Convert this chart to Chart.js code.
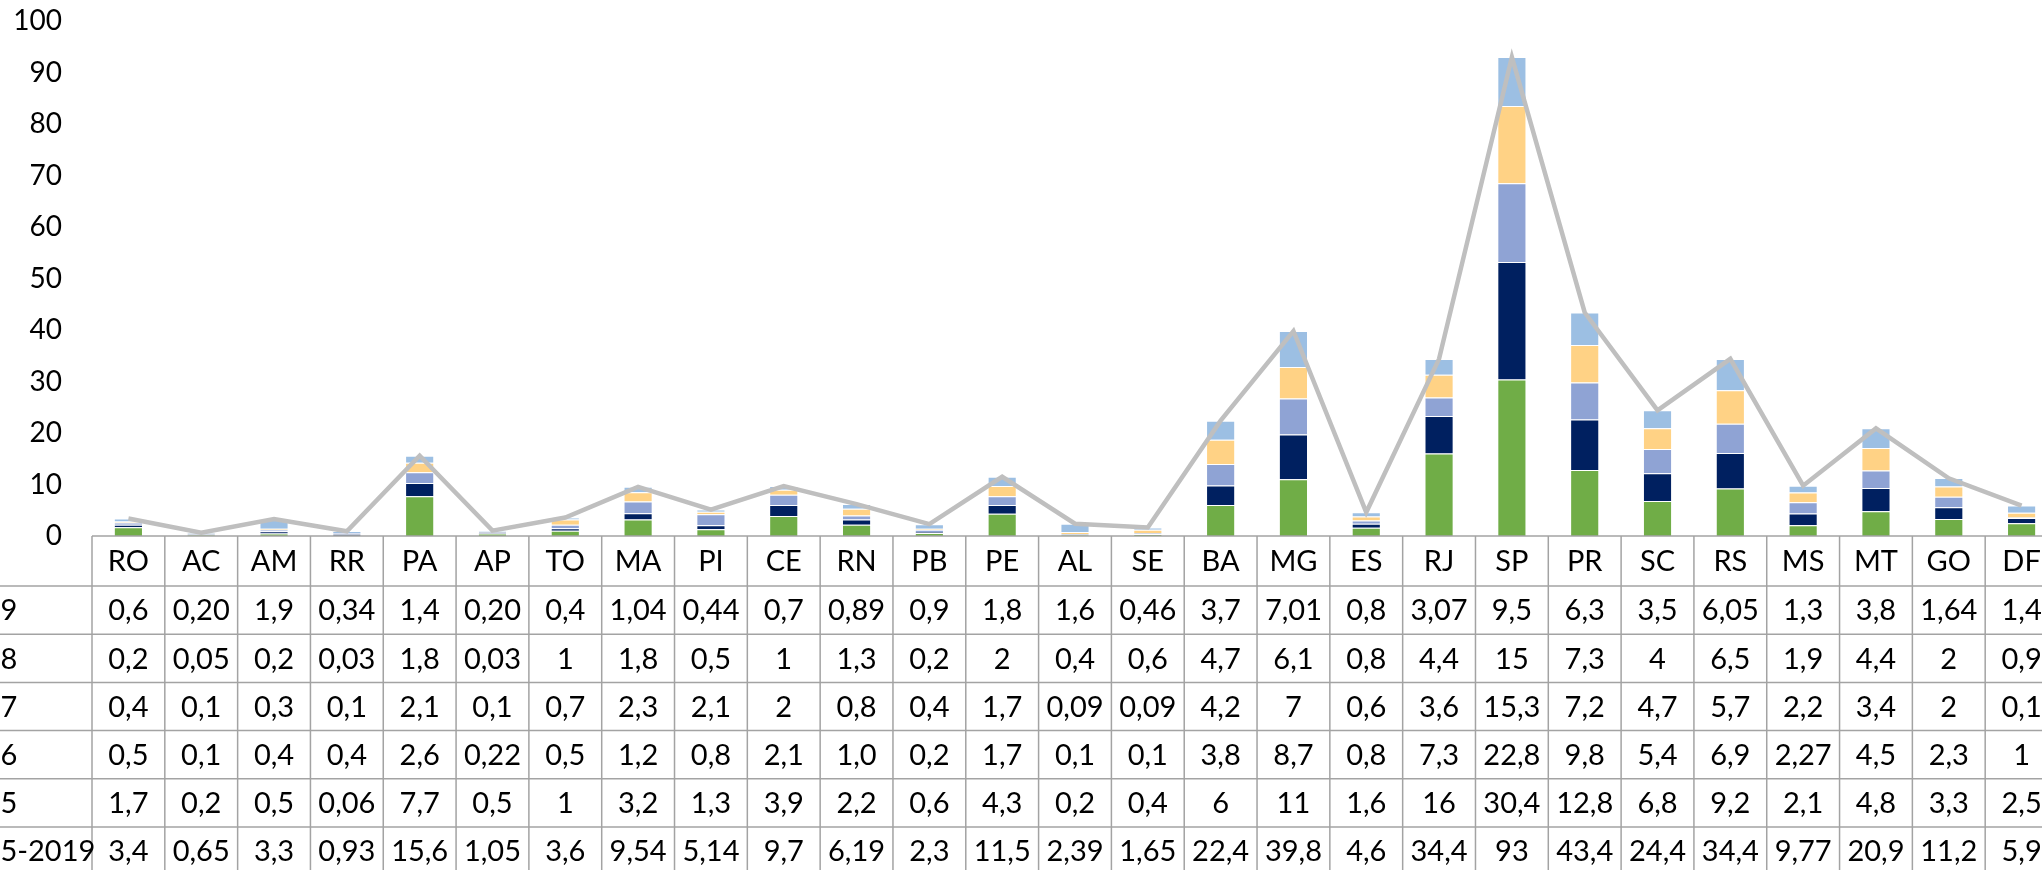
<!DOCTYPE html>
<html>
<head>
<meta charset="utf-8">
<script src="https://cdn.jsdelivr.net/npm/chart.js@4.4.1/dist/chart.umd.min.js"></script>
<style>
  html, body { margin: 0; padding: 0; background: #fff; overflow: hidden; width: 2042px; height: 870px; }
  #wrap { position: absolute; left: -100px; top: 0; width: 2242px; height: 870px; }
</style>
</head>
<body>
<div id="wrap"><canvas id="c" width="2242" height="870"></canvas></div>
<script>
const categories = ["RO","AC","AM","RR","PA","AP","TO","MA","PI","CE","RN","PB","PE","AL","SE","BA","MG","ES","RJ","SP","PR","SC","RS","MS","MT","GO","DF"];
const v2019 = [0.6,0.20,1.9,0.34,1.4,0.20,0.4,1.04,0.44,0.7,0.89,0.9,1.8,1.6,0.46,3.7,7.01,0.8,3.07,9.5,6.3,3.5,6.05,1.3,3.8,1.64,1.4];
const v2018 = [0.2,0.05,0.2,0.03,1.8,0.03,1,1.8,0.5,1,1.3,0.2,2,0.4,0.6,4.7,6.1,0.8,4.4,15,7.3,4,6.5,1.9,4.4,2,0.9];
const v2017 = [0.4,0.1,0.3,0.1,2.1,0.1,0.7,2.3,2.1,2,0.8,0.4,1.7,0.09,0.09,4.2,7,0.6,3.6,15.3,7.2,4.7,5.7,2.2,3.4,2,0.1];
const v2016 = [0.5,0.1,0.4,0.4,2.6,0.22,0.5,1.2,0.8,2.1,1.0,0.2,1.7,0.1,0.1,3.8,8.7,0.8,7.3,22.8,9.8,5.4,6.9,2.27,4.5,2.3,1];
const v2015 = [1.7,0.2,0.5,0.06,7.7,0.5,1,3.2,1.3,3.9,2.2,0.6,4.3,0.2,0.4,6,11,1.6,16,30.4,12.8,6.8,9.2,2.1,4.8,3.3,2.5];
const vTotal = [3.4,0.65,3.3,0.93,15.6,1.05,3.6,9.54,5.14,9.7,6.19,2.3,11.5,2.39,1.65,22.4,39.8,4.6,34.4,93,43.4,24.4,34.4,9.77,20.9,11.2,5.9];
// table display texts (as printed)
const t2019 = ["0,6","0,20","1,9","0,34","1,4","0,20","0,4","1,04","0,44","0,7","0,89","0,9","1,8","1,6","0,46","3,7","7,01","0,8","3,07","9,5","6,3","3,5","6,05","1,3","3,8","1,64","1,4"];
const t2018 = ["0,2","0,05","0,2","0,03","1,8","0,03","1","1,8","0,5","1","1,3","0,2","2","0,4","0,6","4,7","6,1","0,8","4,4","15","7,3","4","6,5","1,9","4,4","2","0,9"];
const t2017 = ["0,4","0,1","0,3","0,1","2,1","0,1","0,7","2,3","2,1","2","0,8","0,4","1,7","0,09","0,09","4,2","7","0,6","3,6","15,3","7,2","4,7","5,7","2,2","3,4","2","0,1"];
const t2016 = ["0,5","0,1","0,4","0,4","2,6","0,22","0,5","1,2","0,8","2,1","1,0","0,2","1,7","0,1","0,1","3,8","8,7","0,8","7,3","22,8","9,8","5,4","6,9","2,27","4,5","2,3","1"];
const t2015 = ["1,7","0,2","0,5","0,06","7,7","0,5","1","3,2","1,3","3,9","2,2","0,6","4,3","0,2","0,4","6","11","1,6","16","30,4","12,8","6,8","9,2","2,1","4,8","3,3","2,5"];
const tTotal = ["3,4","0,65","3,3","0,93","15,6","1,05","3,6","9,54","5,14","9,7","6,19","2,3","11,5","2,39","1,65","22,4","39,8","4,6","34,4","93","43,4","24,4","34,4","9,77","20,9","11,2","5,9"];
const rowLabels = ["2019","2018","2017","2016","2015","2015-2019"];
const rowTexts = [t2019, t2018, t2017, t2016, t2015, tTotal];
const yTicks = [0,10,20,30,40,50,60,70,80,90,100];

const FONT = "Lato, 'Open Sans', sans-serif";
const GRID = "#a3a3a3";

const tablePlugin = {
  id: 'dataTable',
  afterDraw(chart) {
    const ctx = chart.ctx;
    const xs = chart.scales.x;
    const area = chart.chartArea;
    const n = categories.length;
    const colW = area.width / n;
    const top = area.bottom;
    const catH = 50, rowH = 48.2;
    ctx.save();
    ctx.strokeStyle = GRID;
    ctx.lineWidth = 1.5;
    ctx.beginPath();
    ctx.moveTo(area.left, top); ctx.lineTo(chart.width, top);
    ctx.stroke();
    for (let r = 0; r <= rowLabels.length; r++) {
      const y = top + catH + r * rowH;
      ctx.beginPath(); ctx.moveTo(0, y); ctx.lineTo(chart.width, y); ctx.stroke();
    }
    for (let i = 0; i <= n; i++) {
      const x = xs.getPixelForValue(0) - colW / 2 + i * colW;
      ctx.beginPath(); ctx.moveTo(x, top); ctx.lineTo(x, chart.height); ctx.stroke();
    }
    ctx.fillStyle = "#000";
    ctx.font = "29px " + FONT;
    ctx.textBaseline = "middle";
    ctx.textAlign = "center";
    for (let i = 0; i < n; i++) {
      const cx = xs.getPixelForValue(i);
      ctx.fillText(categories[i], cx, top + catH / 2 + 1);
      for (let r = 0; r < rowTexts.length; r++) {
        ctx.fillText(rowTexts[r][i], cx, top + catH + r * rowH + rowH / 2 + 1);
      }
    }
    ctx.textAlign = "left";
    for (let r = 0; r < rowLabels.length; r++) {
      ctx.fillText(rowLabels[r], 50, top + catH + r * rowH + rowH / 2 + 1);
    }
    ctx.restore();
  }
};

const barCommon = { type: 'bar', stack: 'years', order: 1, borderColor: 'rgba(255,255,255,0.75)', borderWidth: 1, categoryPercentage: 1.0, barPercentage: 0.4 };

new Chart(document.getElementById('c'), {
  data: {
    labels: categories,
    datasets: [
      Object.assign({ label: '2015', data: v2015, backgroundColor: '#70AD47' }, barCommon),
      Object.assign({ label: '2016', data: v2016, backgroundColor: '#002060' }, barCommon),
      Object.assign({ label: '2017', data: v2017, backgroundColor: '#8FA3D4' }, barCommon),
      Object.assign({ label: '2018', data: v2018, backgroundColor: '#FFD285' }, barCommon),
      Object.assign({ label: '2019', data: v2019, backgroundColor: '#9CBFE3' }, barCommon),
      { type: 'line', label: '2015-2019', data: vTotal, stack: 'total', order: 0, borderColor: '#BFBFBF', borderWidth: 4.5, pointRadius: 0, tension: 0, fill: false }
    ]
  },
  options: {
    responsive: false,
    animation: false,
    devicePixelRatio: 1,
    layout: { padding: { left: 72, right: 84, top: 21, bottom: 334 } },
    plugins: { legend: { display: false }, tooltip: { enabled: false } },
    scales: {
      x: { display: false, stacked: true, offset: true },
      y: {
        stacked: true, min: 0, max: 100,
        grid: { display: false, drawTicks: true, tickLength: 30 },
        border: { display: false },
        afterBuildTicks(scale) { scale.ticks = yTicks.map(v => ({ value: v })); },
        afterFit(scale) { scale.width = 120; },
        ticks: { autoSkip: false, padding: 0, color: '#000', font: { family: FONT, size: 28 } }
      }
    }
  },
  plugins: [tablePlugin]
});
</script>
</body>
</html>
